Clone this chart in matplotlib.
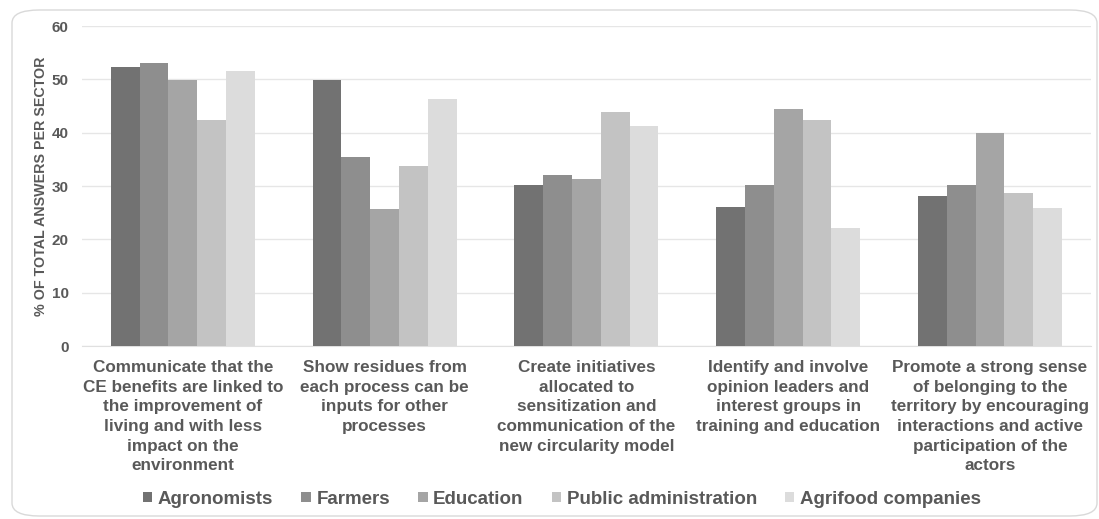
import matplotlib
matplotlib.use("Agg")
import matplotlib.pyplot as plt
from matplotlib.patches import Patch, FancyBboxPatch

plt.rcParams['font.family'] = ['Liberation Sans', 'DejaVu Sans']
plt.rcParams['font.weight'] = 'bold'

# strategies (x axis) and share of answers per sector
categories = [
    "Communicate that the\nCE benefits are linked to\nthe improvement of\nliving and with less\nimpact on the\nenvironment",
    "Show residues from\neach process can be\ninputs for other\nprocesses",
    "Create initiatives\nallocated to\nsensitization and\ncommunication of the\nnew circularity model",
    "Identify and involve\nopinion leaders and\ninterest groups in\ntraining and education",
    "Promote a strong sense\nof belonging to the\nterritory by encouraging\ninteractions and active\nparticipation of the\nactors",
]
sectors = ["Agronomists", "Farmers", "Education", "Public administration", "Agrifood companies"]

agronomists = [52.3, 49.8, 30.1, 26.1, 28.1]
farmers = [53.0, 35.5, 32.1, 30.1, 30.1]
education = [49.9, 25.7, 31.3, 44.4, 39.9]
public_admin = [42.3, 33.8, 43.9, 42.3, 28.7]
agrifood = [51.6, 46.4, 41.2, 22.2, 25.8]

series = [agronomists, farmers, education, public_admin, agrifood]
colors = ["#727272", "#8e8e8e", "#a5a5a5", "#c3c3c3", "#dcdcdc"]
text_color = "#595959"

fig = plt.figure(figsize=(10.99, 5.19), dpi=100)
ax = fig.add_axes([0.0746, 0.3333, 0.918, 0.6166])

# rounded frame around the whole chart
frame = FancyBboxPatch((12 / 1099, 3 / 519), 1085 / 1099, 506 / 519,
                       boxstyle="round,pad=0,rounding_size=0.025",
                       transform=fig.transFigure, facecolor="none",
                       edgecolor="#d9d9d9", linewidth=1.0, zorder=0)
fig.patches.append(frame)

n = len(series)
group_w = 0.714
bar_w = group_w / n
x = range(len(categories))
for i, (vals, col) in enumerate(zip(series, colors)):
    offs = -group_w / 2 + bar_w * (i + 0.5)
    ax.bar([xi + offs for xi in x], vals, width=bar_w, color=col, zorder=3)

ax.set_xlim(-0.5, len(categories) - 0.5)
ax.set_ylim(0, 60)
ax.set_yticks(range(0, 61, 10))
ax.yaxis.grid(True, color="#e6e6e6", linewidth=1.0, zorder=0)
ax.set_axisbelow(True)
for s in ["top", "right", "left"]:
    ax.spines[s].set_visible(False)
ax.spines["bottom"].set_color("#e0e0e0")

ax.set_xticks(list(x))
ax.set_xticklabels(categories, fontsize=12.3, color=text_color, linespacing=1.39,
                   fontweight="bold")
ax.tick_params(axis="x", length=0, pad=10)
ax.tick_params(axis="y", length=0, pad=9.5, labelsize=11, labelcolor=text_color)

ax.set_ylabel("% OF TOTAL ANSWERS PER SECTOR", fontsize=10.3, color=text_color,
              fontweight="bold", labelpad=3)

handles = [Patch(facecolor=c, edgecolor="none", label=s) for s, c in zip(sectors, colors)]
fig.legend(handles=handles, loc="center", bbox_to_anchor=(562 / 1099, 1 - 499 / 519),
           ncol=5, frameon=False, fontsize=13.5, handlelength=0.5, handleheight=0.5,
           handletextpad=0.3, columnspacing=1.5, labelcolor=text_color)

fig.savefig("out.png", dpi=100, facecolor="white")
